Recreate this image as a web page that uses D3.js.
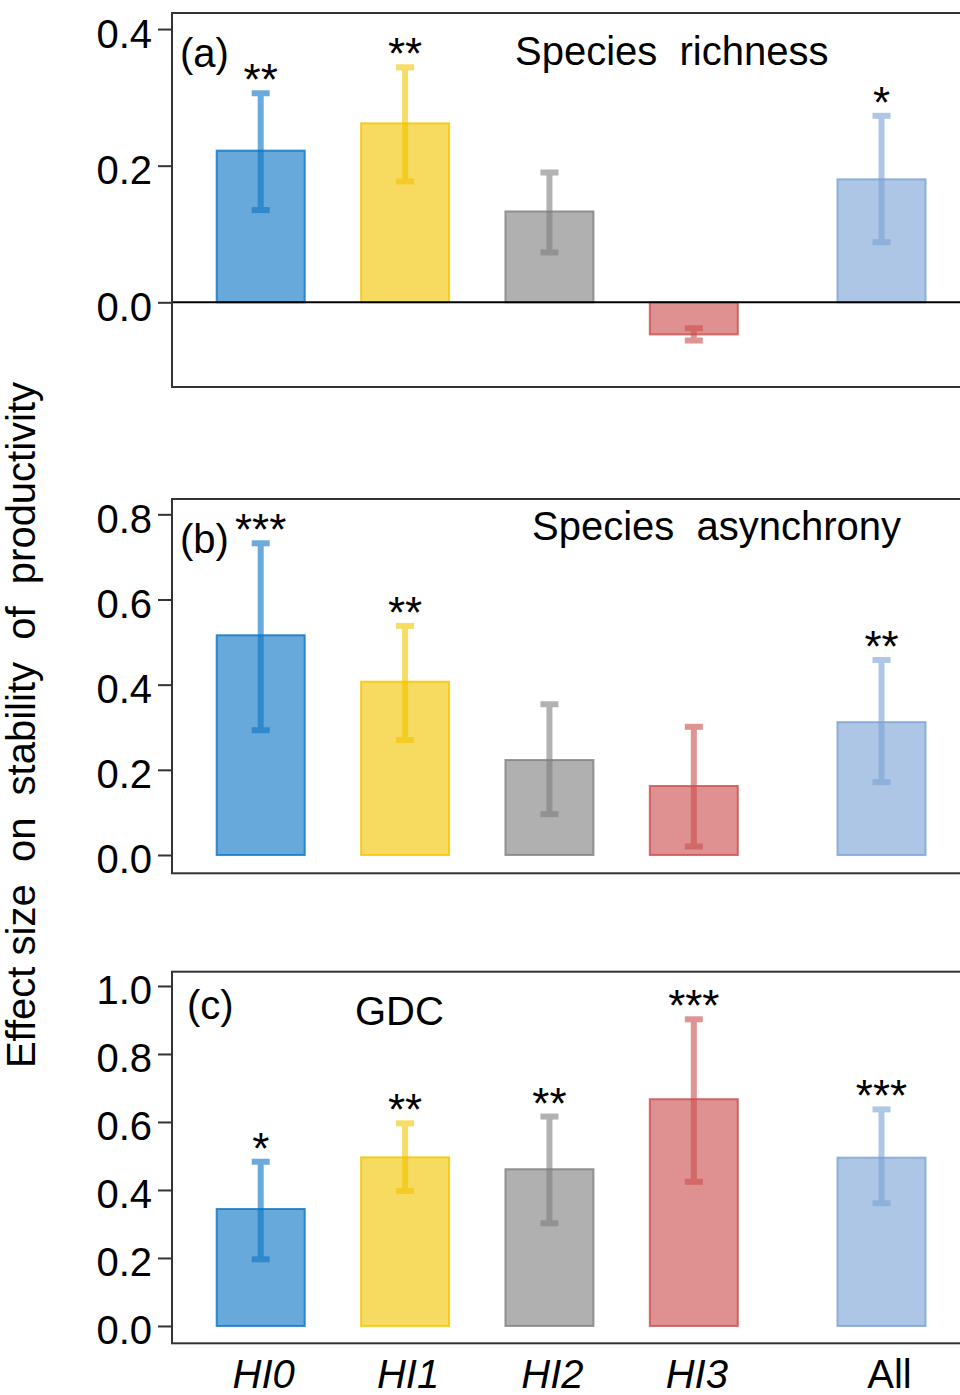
<!DOCTYPE html>
<html>
<head>
<meta charset="utf-8">
<script src="https://cdn.jsdelivr.net/npm/d3@7"></script>
<style>
  body { margin: 0; background: #fff; }
  text { font-family: "Liberation Sans", Arial, sans-serif; fill: #000; }
</style>
</head>
<body>
<div id="chart"></div>
<script>
////////////////////////////////////////////////////////////
//////////////////////// Data //////////////////////////////
////////////////////////////////////////////////////////////

var categories = ["HI0", "HI1", "HI2", "HI3", "All"];

var richnessMean  = [0.222, 0.262, 0.133, -0.047, 0.180];
var richnessLower = [0.135, 0.177, 0.073, -0.056, 0.088];
var richnessUpper = [0.306, 0.344, 0.190, -0.038, 0.273];
var richnessSig   = ["**", "**", "", "", "*"];
var richnessTicks = [0.0, 0.2, 0.4];

var asynchronyMean  = [0.516, 0.407, 0.223, 0.162, 0.312];
var asynchronyLower = [0.293, 0.270, 0.096, 0.020, 0.171];
var asynchronyUpper = [0.732, 0.538, 0.354, 0.301, 0.458];
var asynchronySig   = ["***", "**", "", "", "**"];
var asynchronyTicks = [0.0, 0.2, 0.4, 0.6, 0.8];

var gdcMean  = [0.344, 0.496, 0.461, 0.667, 0.495];
var gdcLower = [0.196, 0.397, 0.302, 0.424, 0.361];
var gdcUpper = [0.483, 0.596, 0.616, 0.902, 0.637];
var gdcSig   = ["*", "**", "**", "***", "***"];
var gdcTicks = [0.0, 0.2, 0.4, 0.6, 0.8, 1.0];

////////////////////////////////////////////////////////////
//////////////////////// Set-Up ////////////////////////////
////////////////////////////////////////////////////////////

var width = 960, height = 1395;
var boxLeft = 172, boxRight = 966;
var barWidth = 88, capWidth = 18;

var baseColors = ["#0a74c4", "#f2c500", "#7f7f7f", "#cb4e4e", "#7aa3d5"];

// "All" sits a bit further right than the four HI groups
function slot(i) { return i < 4 ? i : 4.3; }
var x = d3.scaleLinear().domain([0, 4.3]).range([260.7, 881.5]);

var panels = [
  { label: "(a)", title: "Species  richness", mean: richnessMean, lower: richnessLower, upper: richnessUpper,
    sig: richnessSig, ticks: richnessTicks, domain: [-0.124, 0.4235], top: 13, bottom: 387,
    zeroLine: true, labelX: 180, labelY: 54, titleX: 515, titleY: 52 },
  { label: "(b)", title: "Species  asynchrony", mean: asynchronyMean, lower: asynchronyLower, upper: asynchronyUpper,
    sig: asynchronySig, ticks: asynchronyTicks, domain: [-0.043, 0.836], top: 499, bottom: 873.3,
    zeroLine: false, labelX: 180, labelY: 54, titleX: 532, titleY: 41 },
  { label: "(c)", title: "GDC", mean: gdcMean, lower: gdcLower, upper: gdcUpper,
    sig: gdcSig, ticks: gdcTicks, domain: [-0.051, 1.042], top: 971.7, bottom: 1343.3,
    zeroLine: false, labelX: 187, labelY: 47, titleX: 355, titleY: 53 }
];

var svg = d3.select("#chart").append("svg")
  .attr("width", width)
  .attr("height", height);

svg.append("rect").attr("width", width).attr("height", height).attr("fill", "#fff");

////////////////////////////////////////////////////////////
//////////////////////// Panels ////////////////////////////
////////////////////////////////////////////////////////////

panels.forEach(function(p) {
  var y = d3.scaleLinear().domain(p.domain).range([p.bottom, p.top]);
  var g = svg.append("g");

  var rows = categories.map(function(c, i) {
    return { cat: c, i: i, mean: p.mean[i], lo: p.lower[i], hi: p.upper[i], sig: p.sig[i] };
  });

  //y axis
  var axis = g.append("g")
    .attr("transform", "translate(" + boxLeft + ",0)")
    .call(d3.axisLeft(y).tickValues(p.ticks).tickFormat(d3.format(".1f")).tickSize(14).tickPadding(6));
  axis.select(".domain").remove();
  axis.selectAll(".tick line").attr("stroke", "#333").attr("stroke-width", 2);
  axis.selectAll(".tick text")
    .attr("dy", "0.45em")
    .style("font-size", "40px")
    .style("font-family", "'Liberation Sans', Arial, sans-serif")
    .attr("fill", "#000");

  //bars
  g.selectAll("rect.bar")
    .data(rows)
    .enter().append("rect")
    .attr("class", "bar")
    .attr("x", function(d) { return x(slot(d.i)) - barWidth / 2; })
    .attr("width", barWidth)
    .attr("y", function(d) { return Math.min(y(d.mean), y(0)); })
    .attr("height", function(d) { return Math.abs(y(d.mean) - y(0)); })
    .attr("fill", function(d) { return baseColors[d.i]; })
    .attr("fill-opacity", 0.62)
    .attr("stroke", function(d) { return baseColors[d.i]; })
    .attr("stroke-opacity", 0.8)
    .attr("stroke-width", 2);

  //error bars
  var eb = g.selectAll("g.err")
    .data(rows)
    .enter().append("g")
    .attr("class", "err")
    .attr("opacity", 0.6);
  eb.append("line")
    .attr("x1", function(d) { return x(slot(d.i)); })
    .attr("x2", function(d) { return x(slot(d.i)); })
    .attr("y1", function(d) { return y(d.lo); })
    .attr("y2", function(d) { return y(d.hi); })
    .attr("stroke", function(d) { return baseColors[d.i]; })
    .attr("stroke-width", 6);
  ["lo", "hi"].forEach(function(k) {
    eb.append("line")
      .attr("x1", function(d) { return x(slot(d.i)) - capWidth / 2; })
      .attr("x2", function(d) { return x(slot(d.i)) + capWidth / 2; })
      .attr("y1", function(d) { return y(d[k]); })
      .attr("y2", function(d) { return y(d[k]); })
      .attr("stroke", function(d) { return baseColors[d.i]; })
      .attr("stroke-width", 6);
  });

  //significance stars
  g.selectAll("text.sig")
    .data(rows.filter(function(d) { return d.sig !== ""; }))
    .enter().append("text")
    .attr("class", "sig")
    .attr("x", function(d) { return x(slot(d.i)); })
    .attr("y", function(d) { return y(d.hi) + 2; })
    .attr("text-anchor", "middle")
    .style("font-size", "44px")
    .text(function(d) { return d.sig; });

  //zero reference line
  if (p.zeroLine) {
    g.append("line")
      .attr("x1", boxLeft).attr("x2", boxRight)
      .attr("y1", y(0)).attr("y2", y(0))
      .attr("stroke", "#000").attr("stroke-width", 2);
  }

  //frame
  g.append("rect")
    .attr("x", boxLeft).attr("y", p.top)
    .attr("width", boxRight - boxLeft).attr("height", p.bottom - p.top)
    .attr("fill", "none").attr("stroke", "#333").attr("stroke-width", 2);

  //panel letter and title
  g.append("text")
    .attr("x", p.labelX).attr("y", p.top + p.labelY)
    .style("font-size", "40px")
    .text(p.label);
  g.append("text")
    .attr("x", p.titleX).attr("y", p.top + p.titleY)
    .style("font-size", "40px")
    .style("white-space", "pre")
    .text(p.title);
});

////////////////////////////////////////////////////////////
//////////////////////// Axis labels ///////////////////////
////////////////////////////////////////////////////////////

svg.selectAll("text.xlab")
  .data(categories)
  .enter().append("text")
  .attr("class", "xlab")
  .attr("x", function(d, i) { return x(slot(i)) + (i < 4 ? 3 : 8); })
  .attr("y", 1388)
  .attr("text-anchor", "middle")
  .style("font-size", "40px")
  .style("font-style", function(d) { return d === "All" ? "normal" : "italic"; })
  .text(function(d) { return d; });

svg.append("text")
  .attr("transform", "translate(35,725) rotate(-90)")
  .attr("text-anchor", "middle")
  .style("font-size", "40px")
  .style("white-space", "pre")
  .text("Effect size  on  stability  of  productivity");
</script>
</body>
</html>
